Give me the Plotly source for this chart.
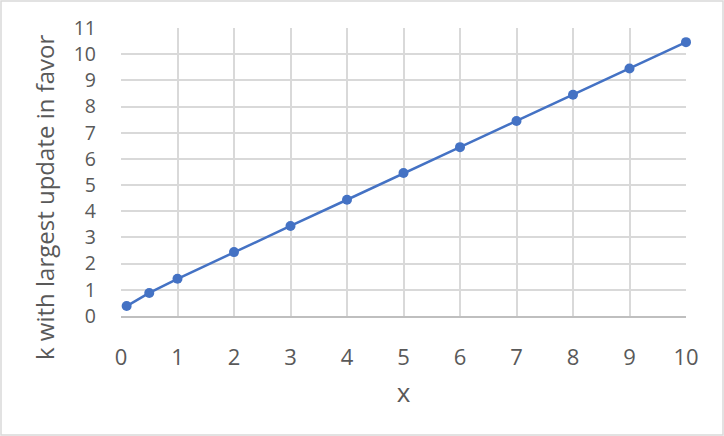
import plotly.graph_objects as go

x_vals = [0.1, 0.5, 1, 2, 3, 4, 5, 6, 7, 8, 9, 10]
y_vals = [0.38, 0.88, 1.42, 2.44, 3.44, 4.44, 5.46, 6.45, 7.45, 8.45, 9.45, 10.46]
x_ticks = list(range(0, 11))
y_ticks = list(range(0, 12))

fig = go.Figure()
fig.add_trace(go.Scatter(
    x=x_vals, y=y_vals, mode='lines+markers',
    line=dict(color='#4472C4', width=2.5),
    marker=dict(color='#4472C4', size=10),
    showlegend=False, cliponaxis=False
))

L, R, T, B = 121, 38, 28, 120
W, H = 724, 436
pw, ph = W - L - R, H - T - B

fig.update_layout(
    width=W, height=H,
    margin=dict(l=L, r=R, t=T, b=B),
    plot_bgcolor='white', paper_bgcolor='white',
    font=dict(family='Open Sans, Liberation Sans, sans-serif', color='#595959', size=22),
    xaxis=dict(
        range=[0, 10], tickvals=x_ticks, showgrid=True, gridcolor='#d9d9d9', gridwidth=1.5,
        zeroline=False, showline=True, linecolor='#bfbfbf', linewidth=1.5,
        ticks='', ticklabelstandoff=21, title=dict(text='x', standoff=14),
        tickfont=dict(size=22),
    ),
    yaxis=dict(
        range=[0, 11], tickvals=y_ticks, showgrid=True, gridcolor='#d9d9d9', gridwidth=1.5,
        zeroline=False, showline=False, ticks='', ticklabelstandoff=24,
        tickfont=dict(size=19.5),
    ),
    annotations=[dict(
        text='k with largest update in favor', textangle=-90,
        xref='paper', yref='paper', x=(44 - L) / pw, y=(H - B - 198) / ph,
        xanchor='center', yanchor='middle', showarrow=False,
        font=dict(size=24, color='#595959'),
    )],
    shapes=[dict(
        type='rect', xref='paper', yref='paper',
        x0=-(L - 1) / pw, x1=1 + (R - 1) / pw,
        y0=-(B - 1) / ph, y1=1 + (T - 1) / ph,
        line=dict(color='#d9d9d9', width=1.5), layer='below'
    )],
)

fig.write_html("out.html", config={'displayModeBar': False},
               post_script="document.body.style.margin='0';")
